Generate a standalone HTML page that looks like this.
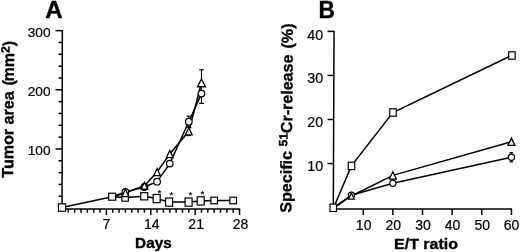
<!DOCTYPE html>
<html><head><meta charset="utf-8"><title>Figure</title>
<style>
html,body{margin:0;padding:0;background:#fff;}
body{width:520px;height:252px;overflow:hidden;}
svg{display:block;filter:blur(0.35px);font-family:"Liberation Sans",Arial,Helvetica,sans-serif;fill:#000;}
</style></head><body>
<svg width="520" height="252" viewBox="0 0 520 252">
<rect x="0" y="0" width="520" height="252" fill="#fff" stroke="none"/>
<line x1="62.30" y1="30.05" x2="62.05" y2="209.00" stroke="#000" stroke-width="1.5"/>
<line x1="58.50" y1="196.27" x2="62.00" y2="196.27" stroke="#000" stroke-width="1.5"/>
<line x1="58.50" y1="184.44" x2="62.00" y2="184.44" stroke="#000" stroke-width="1.5"/>
<line x1="58.50" y1="172.61" x2="62.00" y2="172.61" stroke="#000" stroke-width="1.5"/>
<line x1="58.50" y1="160.78" x2="62.00" y2="160.78" stroke="#000" stroke-width="1.5"/>
<line x1="55.50" y1="148.95" x2="62.00" y2="148.95" stroke="#000" stroke-width="1.5"/>
<line x1="58.50" y1="137.12" x2="62.00" y2="137.12" stroke="#000" stroke-width="1.5"/>
<line x1="58.50" y1="125.29" x2="62.00" y2="125.29" stroke="#000" stroke-width="1.5"/>
<line x1="58.50" y1="113.46" x2="62.00" y2="113.46" stroke="#000" stroke-width="1.5"/>
<line x1="58.50" y1="101.63" x2="62.00" y2="101.63" stroke="#000" stroke-width="1.5"/>
<line x1="55.50" y1="89.80" x2="62.00" y2="89.80" stroke="#000" stroke-width="1.5"/>
<line x1="58.50" y1="77.97" x2="62.00" y2="77.97" stroke="#000" stroke-width="1.5"/>
<line x1="58.50" y1="66.14" x2="62.00" y2="66.14" stroke="#000" stroke-width="1.5"/>
<line x1="58.50" y1="54.31" x2="62.00" y2="54.31" stroke="#000" stroke-width="1.5"/>
<line x1="58.50" y1="42.48" x2="62.00" y2="42.48" stroke="#000" stroke-width="1.5"/>
<line x1="55.50" y1="30.65" x2="62.00" y2="30.65" stroke="#000" stroke-width="1.5"/>
<line x1="61.40" y1="209.00" x2="240.12" y2="209.00" stroke="#000" stroke-width="1.5"/>
<line x1="68.34" y1="209.00" x2="68.34" y2="212.70" stroke="#000" stroke-width="1.5"/>
<line x1="74.68" y1="209.00" x2="74.68" y2="212.70" stroke="#000" stroke-width="1.5"/>
<line x1="81.02" y1="209.00" x2="81.02" y2="212.70" stroke="#000" stroke-width="1.5"/>
<line x1="87.36" y1="209.00" x2="87.36" y2="212.70" stroke="#000" stroke-width="1.5"/>
<line x1="93.70" y1="209.00" x2="93.70" y2="212.70" stroke="#000" stroke-width="1.5"/>
<line x1="100.04" y1="209.00" x2="100.04" y2="212.70" stroke="#000" stroke-width="1.5"/>
<line x1="106.38" y1="209.00" x2="106.38" y2="215.00" stroke="#000" stroke-width="1.5"/>
<line x1="112.72" y1="209.00" x2="112.72" y2="212.70" stroke="#000" stroke-width="1.5"/>
<line x1="119.06" y1="209.00" x2="119.06" y2="212.70" stroke="#000" stroke-width="1.5"/>
<line x1="125.40" y1="209.00" x2="125.40" y2="212.70" stroke="#000" stroke-width="1.5"/>
<line x1="131.74" y1="209.00" x2="131.74" y2="212.70" stroke="#000" stroke-width="1.5"/>
<line x1="138.08" y1="209.00" x2="138.08" y2="212.70" stroke="#000" stroke-width="1.5"/>
<line x1="144.42" y1="209.00" x2="144.42" y2="212.70" stroke="#000" stroke-width="1.5"/>
<line x1="150.76" y1="209.00" x2="150.76" y2="215.00" stroke="#000" stroke-width="1.5"/>
<line x1="157.10" y1="209.00" x2="157.10" y2="212.70" stroke="#000" stroke-width="1.5"/>
<line x1="163.44" y1="209.00" x2="163.44" y2="212.70" stroke="#000" stroke-width="1.5"/>
<line x1="169.78" y1="209.00" x2="169.78" y2="212.70" stroke="#000" stroke-width="1.5"/>
<line x1="176.12" y1="209.00" x2="176.12" y2="212.70" stroke="#000" stroke-width="1.5"/>
<line x1="182.46" y1="209.00" x2="182.46" y2="212.70" stroke="#000" stroke-width="1.5"/>
<line x1="188.80" y1="209.00" x2="188.80" y2="212.70" stroke="#000" stroke-width="1.5"/>
<line x1="195.14" y1="209.00" x2="195.14" y2="215.00" stroke="#000" stroke-width="1.5"/>
<line x1="201.48" y1="209.00" x2="201.48" y2="212.70" stroke="#000" stroke-width="1.5"/>
<line x1="207.82" y1="209.00" x2="207.82" y2="212.70" stroke="#000" stroke-width="1.5"/>
<line x1="214.16" y1="209.00" x2="214.16" y2="212.70" stroke="#000" stroke-width="1.5"/>
<line x1="220.50" y1="209.00" x2="220.50" y2="212.70" stroke="#000" stroke-width="1.5"/>
<line x1="226.84" y1="209.00" x2="226.84" y2="212.70" stroke="#000" stroke-width="1.5"/>
<line x1="233.18" y1="209.00" x2="233.18" y2="212.70" stroke="#000" stroke-width="1.5"/>
<line x1="239.52" y1="209.00" x2="239.52" y2="215.00" stroke="#000" stroke-width="1.5"/>
<text transform="translate(50.60,154.50) scale(1.0,1)" font-size="13.7" text-anchor="end" stroke="#000" stroke-width="0.2">100</text>
<text transform="translate(50.60,95.50) scale(1.0,1)" font-size="13.7" text-anchor="end" stroke="#000" stroke-width="0.2">200</text>
<text transform="translate(50.60,36.50) scale(1.0,1)" font-size="13.7" text-anchor="end" stroke="#000" stroke-width="0.2">300</text>
<text transform="translate(106.48,229.20) scale(1.0,1)" font-size="14" text-anchor="middle" stroke="#000" stroke-width="0.2">7</text>
<text transform="translate(151.76,229.20) scale(1.0,1)" font-size="14" text-anchor="middle" stroke="#000" stroke-width="0.2">14</text>
<text transform="translate(196.14,229.20) scale(1.0,1)" font-size="14" text-anchor="middle" stroke="#000" stroke-width="0.2">21</text>
<text transform="translate(240.52,229.20) scale(1.0,1)" font-size="14" text-anchor="middle" stroke="#000" stroke-width="0.2">28</text>
<text transform="translate(153.40,247.60) scale(1.0,1)" font-size="15.3" text-anchor="middle" font-weight="bold" stroke="#000" stroke-width="0.35">Days</text>
<text transform="translate(53.80,17.80) scale(1.0,1)" font-size="24" text-anchor="middle" font-weight="bold" stroke="#000" stroke-width="0.35">A</text>
<text transform="translate(13.6,109.3) rotate(-89.55) scale(1.005,1)" font-size="16.0" stroke="#000" stroke-width="0.35" font-weight="bold" text-anchor="middle">Tumor area <tspan dx="1.3">(</tspan><tspan dx="-1.3">mm</tspan><tspan font-size="12" dy="-4.6">2</tspan><tspan dy="4.6">)</tspan></text>
<polyline fill="none" stroke="#000" stroke-width="1.5" points="62.00,207.50 112.21,196.70 125.08,197.60 144.23,196.30 156.66,198.60 169.08,202.10 188.61,202.10 200.72,200.90 214.16,200.50 233.18,200.50"/>
<polyline fill="none" stroke="#000" stroke-width="1.5" points="112.72,196.70 125.40,192.80 144.42,185.70 157.10,172.00 169.78,154.00 188.80,131.30 201.48,82.80"/>
<polyline fill="none" stroke="#000" stroke-width="1.5" points="112.72,196.70 125.40,192.00 144.42,187.00 157.10,181.70 169.78,163.60 188.80,121.70 201.48,93.60"/>
<line x1="201.48" y1="69.80" x2="201.48" y2="96.00" stroke="#000" stroke-width="1.1"/>
<line x1="199.08" y1="69.80" x2="203.88" y2="69.80" stroke="#000" stroke-width="1.1"/>
<line x1="199.08" y1="96.00" x2="203.88" y2="96.00" stroke="#000" stroke-width="1.1"/>
<line x1="201.48" y1="84.00" x2="201.48" y2="103.40" stroke="#000" stroke-width="1.1"/>
<line x1="199.08" y1="84.00" x2="203.88" y2="84.00" stroke="#000" stroke-width="1.1"/>
<line x1="199.08" y1="103.40" x2="203.88" y2="103.40" stroke="#000" stroke-width="1.1"/>
<line x1="188.80" y1="116.20" x2="188.80" y2="127.50" stroke="#000" stroke-width="1.1"/>
<line x1="186.40" y1="116.20" x2="191.20" y2="116.20" stroke="#000" stroke-width="1.1"/>
<line x1="186.40" y1="127.50" x2="191.20" y2="127.50" stroke="#000" stroke-width="1.1"/>
<line x1="188.80" y1="127.00" x2="188.80" y2="135.60" stroke="#000" stroke-width="1.1"/>
<line x1="186.40" y1="127.00" x2="191.20" y2="127.00" stroke="#000" stroke-width="1.1"/>
<line x1="186.40" y1="135.60" x2="191.20" y2="135.60" stroke="#000" stroke-width="1.1"/>
<rect x="58.40" y="203.80" width="7.2" height="7.4" fill="#fff" stroke="#000" stroke-width="1.2"/>
<rect x="108.71" y="193.20" width="7.0" height="7.0" fill="#fff" stroke="#000" stroke-width="1.2"/>
<rect x="121.78" y="194.00" width="6.6" height="7.2" fill="#fff" stroke="#000" stroke-width="1.2"/>
<rect x="140.73" y="192.70" width="7.0" height="7.2" fill="#fff" stroke="#000" stroke-width="1.2"/>
<rect x="153.16" y="194.50" width="7.0" height="8.2" fill="#fff" stroke="#000" stroke-width="1.2"/>
<rect x="165.58" y="198.00" width="7.0" height="8.2" fill="#fff" stroke="#000" stroke-width="1.2"/>
<rect x="185.11" y="198.00" width="7.0" height="8.2" fill="#fff" stroke="#000" stroke-width="1.2"/>
<rect x="197.22" y="196.80" width="7.0" height="8.2" fill="#fff" stroke="#000" stroke-width="1.2"/>
<rect x="210.86" y="197.20" width="6.6" height="6.6" fill="#fff" stroke="#000" stroke-width="1.2"/>
<rect x="229.88" y="197.20" width="6.6" height="6.6" fill="#fff" stroke="#000" stroke-width="1.2"/>
<circle cx="125.40" cy="192.00" r="3.3" fill="#fff" stroke="#000" stroke-width="1.2"/>
<circle cx="144.42" cy="187.00" r="3.3" fill="#fff" stroke="#000" stroke-width="1.2"/>
<circle cx="157.10" cy="181.70" r="3.3" fill="#fff" stroke="#000" stroke-width="1.2"/>
<circle cx="169.78" cy="163.60" r="3.3" fill="#fff" stroke="#000" stroke-width="1.2"/>
<circle cx="188.80" cy="121.70" r="3.3" fill="#fff" stroke="#000" stroke-width="1.2"/>
<circle cx="201.48" cy="93.60" r="3.3" fill="#fff" stroke="#000" stroke-width="1.2"/>
<polygon points="125.40,189.00 121.94,196.65 128.86,196.65" fill="#fff" stroke="#000" stroke-width="1.3" stroke-linejoin="miter"/>
<polygon points="144.42,182.20 141.16,189.25 147.68,189.25" fill="#fff" stroke="#000" stroke-width="1.3" stroke-linejoin="miter"/>
<polygon points="157.10,168.50 153.84,175.55 160.36,175.55" fill="#fff" stroke="#000" stroke-width="1.3" stroke-linejoin="miter"/>
<polygon points="169.78,150.50 166.42,157.55 173.14,157.55" fill="#fff" stroke="#000" stroke-width="1.3" stroke-linejoin="miter"/>
<polygon points="188.80,127.70 185.44,134.95 192.16,134.95" fill="#fff" stroke="#000" stroke-width="1.3" stroke-linejoin="miter"/>
<polygon points="201.48,78.90 197.52,86.75 205.44,86.75" fill="#fff" stroke="#000" stroke-width="1.3" stroke-linejoin="miter"/>
<text transform="translate(159.50,195.80) scale(1.0,1)" font-size="9.8" text-anchor="middle" stroke="#000" stroke-width="0.2">*</text>
<text transform="translate(171.30,198.10) scale(1.0,1)" font-size="9.8" text-anchor="middle" stroke="#000" stroke-width="0.2">*</text>
<text transform="translate(190.40,198.10) scale(1.0,1)" font-size="9.8" text-anchor="middle" stroke="#000" stroke-width="0.2">*</text>
<text transform="translate(202.50,197.00) scale(1.0,1)" font-size="9.8" text-anchor="middle" stroke="#000" stroke-width="0.2">*</text>
<line x1="334.05" y1="30.70" x2="333.30" y2="209.00" stroke="#000" stroke-width="1.5"/>
<line x1="327.50" y1="163.55" x2="334.00" y2="163.55" stroke="#000" stroke-width="1.5"/>
<line x1="327.50" y1="119.50" x2="334.00" y2="119.50" stroke="#000" stroke-width="1.5"/>
<line x1="327.50" y1="75.45" x2="334.00" y2="75.45" stroke="#000" stroke-width="1.5"/>
<line x1="327.50" y1="31.40" x2="334.00" y2="31.40" stroke="#000" stroke-width="1.5"/>
<line x1="333.40" y1="209.00" x2="512.04" y2="209.00" stroke="#000" stroke-width="1.5"/>
<line x1="363.24" y1="209.00" x2="363.24" y2="215.00" stroke="#000" stroke-width="1.5"/>
<line x1="392.88" y1="209.00" x2="392.88" y2="215.00" stroke="#000" stroke-width="1.5"/>
<line x1="422.52" y1="209.00" x2="422.52" y2="215.00" stroke="#000" stroke-width="1.5"/>
<line x1="452.16" y1="209.00" x2="452.16" y2="215.00" stroke="#000" stroke-width="1.5"/>
<line x1="481.80" y1="209.00" x2="481.80" y2="215.00" stroke="#000" stroke-width="1.5"/>
<line x1="511.44" y1="209.00" x2="511.44" y2="215.00" stroke="#000" stroke-width="1.5"/>
<text transform="translate(323.10,170.95) scale(1.0,1)" font-size="14.3" text-anchor="end" stroke="#000" stroke-width="0.2">10</text>
<text transform="translate(323.10,127.20) scale(1.0,1)" font-size="14.3" text-anchor="end" stroke="#000" stroke-width="0.2">20</text>
<text transform="translate(323.10,83.45) scale(1.0,1)" font-size="14.3" text-anchor="end" stroke="#000" stroke-width="0.2">30</text>
<text transform="translate(323.10,39.70) scale(1.0,1)" font-size="14.3" text-anchor="end" stroke="#000" stroke-width="0.2">40</text>
<text transform="translate(363.64,230.10) scale(1.0,1)" font-size="14" text-anchor="middle" stroke="#000" stroke-width="0.2">10</text>
<text transform="translate(393.28,230.10) scale(1.0,1)" font-size="14" text-anchor="middle" stroke="#000" stroke-width="0.2">20</text>
<text transform="translate(422.92,230.10) scale(1.0,1)" font-size="14" text-anchor="middle" stroke="#000" stroke-width="0.2">30</text>
<text transform="translate(452.56,230.10) scale(1.0,1)" font-size="14" text-anchor="middle" stroke="#000" stroke-width="0.2">40</text>
<text transform="translate(482.20,230.10) scale(1.0,1)" font-size="14" text-anchor="middle" stroke="#000" stroke-width="0.2">50</text>
<text transform="translate(511.54,230.10) scale(1.0,1)" font-size="14" text-anchor="middle" stroke="#000" stroke-width="0.2">60</text>
<text transform="translate(426.00,249.20) scale(1.045,1)" font-size="15.3" text-anchor="middle" font-weight="bold" stroke="#000" stroke-width="0.35">E/T ratio</text>
<text transform="translate(326.60,17.80) scale(0.97,1)" font-size="23.4" text-anchor="middle" font-weight="bold" stroke="#000" stroke-width="0.35">B</text>
<text transform="translate(292.2,118.1) rotate(-89.5) scale(1.005,1)" font-size="16.0" stroke="#000" stroke-width="0.35" font-weight="bold" text-anchor="middle">Specific <tspan font-size="12" dy="-4.6">51</tspan><tspan dy="4.6">Cr-release <tspan dx="1.6">(%)</tspan></tspan></text>
<polyline fill="none" stroke="#000" stroke-width="1.5" points="333.60,207.80 351.38,165.90 392.88,112.50 511.44,55.50"/>
<polyline fill="none" stroke="#000" stroke-width="1.5" points="333.60,207.80 351.38,196.00 392.88,175.40 511.44,141.70"/>
<polyline fill="none" stroke="#000" stroke-width="1.5" points="333.60,207.80 351.38,195.30 392.88,183.30 511.44,157.30"/>
<line x1="511.24" y1="152.60" x2="511.24" y2="161.90" stroke="#000" stroke-width="1.1"/>
<line x1="509.34" y1="152.60" x2="513.14" y2="152.60" stroke="#000" stroke-width="1.1"/>
<line x1="509.34" y1="161.90" x2="513.14" y2="161.90" stroke="#000" stroke-width="1.1"/>
<circle cx="351.38" cy="195.30" r="3.1" fill="#fff" stroke="#000" stroke-width="1.2"/>
<circle cx="392.88" cy="183.30" r="3.1" fill="#fff" stroke="#000" stroke-width="1.2"/>
<circle cx="511.44" cy="157.30" r="3.1" fill="#fff" stroke="#000" stroke-width="1.2"/>
<polygon points="351.38,193.00 348.52,199.05 354.24,199.05" fill="#fff" stroke="#000" stroke-width="1.3" stroke-linejoin="miter"/>
<polygon points="392.88,171.80 389.42,179.05 396.34,179.05" fill="#fff" stroke="#000" stroke-width="1.3" stroke-linejoin="miter"/>
<polygon points="511.44,138.10 507.98,145.35 514.90,145.35" fill="#fff" stroke="#000" stroke-width="1.3" stroke-linejoin="miter"/>
<rect x="330.00" y="204.10" width="6.5" height="7.4" fill="#fff" stroke="#000" stroke-width="1.2"/>
<rect x="348.23" y="162.20" width="6.5" height="7.4" fill="#fff" stroke="#000" stroke-width="1.2"/>
<rect x="389.73" y="108.80" width="6.5" height="7.4" fill="#fff" stroke="#000" stroke-width="1.2"/>
<rect x="508.69" y="51.80" width="6.5" height="7.4" fill="#fff" stroke="#000" stroke-width="1.2"/>
</svg>
</body></html>
